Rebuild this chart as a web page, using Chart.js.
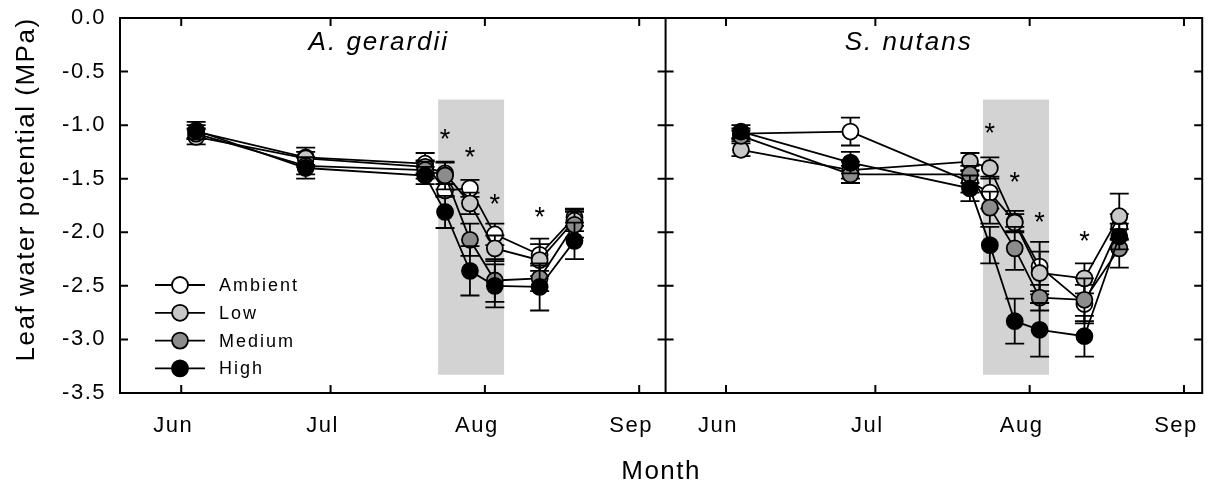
<!DOCTYPE html>
<html><head><meta charset="utf-8">
<script src="https://cdn.jsdelivr.net/npm/chart.js@4"></script>
<style>html,body{margin:0;padding:0;background:#fff;}#wrap{width:1212px;height:487px;}</style>
</head><body><div id="wrap"><canvas id="c" width="1212" height="487"></canvas></div>
<script>
// ---------- data ----------
const dates = [155, 177, 201, 205, 210, 215, 224, 231]; // day of year
const monthTicks = [152, 182, 213, 244];
const monthLabels = ['Jun', 'Jul', 'Aug', 'Sep'];
const yTicks = [0, -0.5, -1.0, -1.5, -2.0, -2.5, -3.0, -3.5];
const treatments = ['Ambient', 'Low', 'Medium', 'High'];
const panelTitles = ['A. gerardii', 'S. nutans'];

const gerardiiAmbient = [-1.06, -1.30, -1.36, -1.61, -1.59, -2.02, -2.21, -1.86];
const gerardiiLow     = [-1.11, -1.31, -1.39, -1.45, -1.73, -2.15, -2.26, -1.89];
const gerardiiMedium  = [-1.08, -1.38, -1.42, -1.47, -2.07, -2.45, -2.43, -1.93];
const gerardiiHigh    = [-1.05, -1.40, -1.47, -1.81, -2.36, -2.50, -2.51, -2.08];
const gerardiiAmbientErr = [0.06, 0.09, 0.10, 0.06, 0.08, 0.10, 0.15, 0.08];
const gerardiiLowErr     = [0.07, 0.06, 0.06, 0.10, 0.10, 0.12, 0.15, 0.10];
const gerardiiMediumErr  = [0.05, 0.08, 0.08, 0.13, 0.15, 0.20, 0.12, 0.12];
const gerardiiHighErr    = [0.08, 0.10, 0.08, 0.15, 0.23, 0.20, 0.22, 0.17];

const nutansAmbient = [-1.08, -1.06, -1.53, -1.63, -1.90, -2.32, -2.67, -1.95];
const nutansLow     = [-1.23, -1.42, -1.34, -1.40, -1.91, -2.38, -2.43, -1.85];
const nutansMedium  = [-1.10, -1.46, -1.46, -1.77, -2.15, -2.61, -2.63, -2.15];
const nutansHigh    = [-1.06, -1.35, -1.59, -2.12, -2.83, -2.91, -2.97, -2.04];
const nutansAmbientErr = [0.05, 0.13, 0.10, 0.15, 0.10, 0.23, 0.18, 0.12];
const nutansLowErr     = [0.06, 0.08, 0.08, 0.10, 0.08, 0.20, 0.14, 0.21];
const nutansMediumErr  = [0.05, 0.08, 0.08, 0.15, 0.20, 0.12, 0.20, 0.18];
const nutansHighErr    = [0.06, 0.10, 0.12, 0.17, 0.21, 0.25, 0.19, 0.12];

const starDates = [205, 210, 215, 224];
const gerardiiStarY = [-1.09, -1.26, -1.69, -1.82];
const nutansStarY   = [-1.03, -1.49, -1.86, -2.04];

const dryPeriod = [203.6, 216.9];   // shaded days
const dryRange  = [-0.76, -3.33];   // shaded MPa extent

// ---------- build ----------
const FONT = "'Liberation Sans', Arial, Helvetica, sans-serif";
const fills = {Ambient: '#ffffff', Low: '#c8c8c8', Medium: '#8c8c8c', High: '#000000'};
const panels = [
  {axis: 'x1', title: panelTitles[0], tx: 191.7, values: [gerardiiAmbient, gerardiiLow, gerardiiMedium, gerardiiHigh],
   errors: [gerardiiAmbientErr, gerardiiLowErr, gerardiiMediumErr, gerardiiHighErr], stars: gerardiiStarY},
  {axis: 'x2', title: panelTitles[1], tx: 188.7, values: [nutansAmbient, nutansLow, nutansMedium, nutansHigh],
   errors: [nutansAmbientErr, nutansLowErr, nutansMediumErr, nutansHighErr], stars: nutansStarY}
];
const datasets = [];
panels.forEach(p => {
  datasets.push({type: 'line', label: 'shade', xAxisID: p.axis, yAxisID: 'y',
    data: [{x: dryPeriod[0], y: dryRange[0]}, {x: dryPeriod[1], y: dryRange[0]}],
    fill: {value: dryRange[1]}, backgroundColor: '#d3d3d3', borderColor: 'rgba(0,0,0,0)',
    borderWidth: 0, pointRadius: 0, order: 10});
  treatments.forEach((t, i) => datasets.push({type: 'line', label: t, xAxisID: p.axis, yAxisID: 'y',
    data: dates.map((d, k) => ({x: d, y: p.values[i][k]})), errors: p.errors[i],
    borderColor: '#000', borderWidth: 1.8, backgroundColor: fills[t], fill: false,
    pointRadius: 8, pointBorderWidth: 1.8, pointBorderColor: '#000', pointBackgroundColor: fills[t],
    order: 4 - i}));
});

const setSpacing = (chart) => { try { chart.ctx.letterSpacing = '1.5px'; } catch (e) {} };
const noPad = s => { s.paddingLeft = 0; s.paddingRight = 0; s.paddingTop = 0; s.paddingBottom = 0; };

const extras = {
  id: 'extras',
  beforeUpdate: setSpacing,
  beforeLayout: setSpacing,
  beforeDraw: setSpacing,
  beforeDatasetDraw(chart, args) {
    const ds = chart.data.datasets[args.index];
    if (!ds.errors) return;
    const xs = chart.scales[ds.xAxisID], ys = chart.scales.y, ctx = chart.ctx;
    ctx.save();
    ctx.strokeStyle = '#000'; ctx.lineWidth = 1.8;
    ds.data.forEach((p, k) => {
      const e = ds.errors[k];
      const px = xs.getPixelForValue(p.x);
      const t = ys.getPixelForValue(p.y + e), b = ys.getPixelForValue(p.y - e);
      ctx.beginPath();
      ctx.moveTo(px, t); ctx.lineTo(px, b);
      ctx.moveTo(px - 9.5, t); ctx.lineTo(px + 9.5, t);
      ctx.moveTo(px - 9.5, b); ctx.lineTo(px + 9.5, b);
      ctx.stroke();
    });
    ctx.restore();
  },
  afterDraw(chart) {
    const ctx = chart.ctx, a = chart.chartArea, ys = chart.scales.y;
    const x1 = chart.scales.x1, x2 = chart.scales.x2;
    const div = x1.right;
    ctx.save();
    ctx.strokeStyle = '#000'; ctx.lineWidth = 2;
    ctx.beginPath();
    ctx.rect(a.left, a.top, a.right - a.left, a.bottom - a.top);
    ctx.moveTo(div, a.top); ctx.lineTo(div, a.bottom);
    const TL = 8;
    yTicks.forEach(v => {
      const py = ys.getPixelForValue(v);
      ctx.moveTo(a.left, py); ctx.lineTo(a.left + TL, py);
      ctx.moveTo(div - TL, py); ctx.lineTo(div + TL, py);
      ctx.moveTo(a.right - TL, py); ctx.lineTo(a.right, py);
    });
    [x1, x2].forEach(s => monthTicks.forEach(v => {
      const px = s.getPixelForValue(v);
      ctx.moveTo(px, a.bottom); ctx.lineTo(px, a.bottom - TL);
      ctx.moveTo(px, a.top); ctx.lineTo(px, a.top + TL);
    }));
    ctx.stroke();

    ctx.fillStyle = '#000';
    // asterisks
    ctx.font = '27px ' + FONT; ctx.textAlign = 'center'; ctx.textBaseline = 'middle';
    ctx.letterSpacing = '0px';
    panels.forEach(p => {
      const s = chart.scales[p.axis];
      starDates.forEach((d, k) => ctx.fillText('*', s.getPixelForValue(d), ys.getPixelForValue(p.stars[k]) + 6));
    });
    // panel titles
    ctx.font = 'italic 26px ' + FONT; ctx.letterSpacing = '2px';
    panels.forEach(p => {
      const s = chart.scales[p.axis];
      ctx.fillText(p.title, s.getPixelForValue(p.tx), ys.getPixelForValue(-0.23));
    });
    // y title
    ctx.save();
    ctx.translate(27, ys.getPixelForValue(-1.6));
    ctx.rotate(-Math.PI / 2);
    ctx.font = '26px ' + FONT; ctx.letterSpacing = '1.5px';
    ctx.fillText('Leaf water potential (MPa)', 0, 0);
    ctx.restore();
    // legend
    ctx.font = '18px ' + FONT; ctx.letterSpacing = '2px'; ctx.textAlign = 'left';
    treatments.forEach((t, i) => {
      const y = 285 + i * 27.8, cx = a.left + 60;
      ctx.beginPath(); ctx.lineWidth = 1.8;
      ctx.moveTo(cx - 25, y); ctx.lineTo(cx + 25, y); ctx.stroke();
      ctx.beginPath(); ctx.arc(cx, y, 8, 0, Math.PI * 2);
      ctx.fillStyle = fills[t]; ctx.fill(); ctx.lineWidth = 1.8; ctx.stroke();
      ctx.fillStyle = '#000';
      ctx.fillText(t, cx + 39, y + 1);
    });
    ctx.restore();
  }
};

const xAxis = (weight, min, max) => ({
  type: 'linear', position: 'bottom', stack: 'months', stackWeight: weight, min, max,
  grid: {display: false, drawTicks: false}, border: {display: false},
  afterBuildTicks: s => { s.ticks = monthTicks.map(v => ({value: v})); },
  afterFit: s => { s.height = 62.8; noPad(s); },
  ticks: {callback: v => monthLabels[monthTicks.indexOf(v)], labelOffset: -8, padding: 20,
    maxRotation: 0, autoSkip: false, color: '#000', font: {family: FONT, size: 22}}
});

new Chart(document.getElementById('c'), {
  type: 'line',
  data: {datasets},
  options: {
    responsive: false, animation: false, devicePixelRatio: 1,
    layout: {padding: {top: 18, right: 5, bottom: 0, left: 0}},
    plugins: {
      legend: {display: false}, tooltip: {enabled: false},
      title: {display: true, text: 'Month', position: 'bottom', fullSize: false, color: '#000',
        font: {family: FONT, size: 26, weight: 'normal'}, padding: 0}
    },
    scales: {
      x1: xAxis(548, 139.7, 249.3),
      x2: xAxis(539, 139.86, 247.66),
      y: {type: 'linear', position: 'left', min: -3.5, max: 0,
        grid: {display: false, drawTicks: false}, border: {display: false},
        afterBuildTicks: s => { s.ticks = yTicks.map(v => ({value: v})); },
        afterFit: s => { s.width = 120; noPad(s); },
        ticks: {callback: v => v.toFixed(1), padding: 14, color: '#000', font: {family: FONT, size: 22}}}
    }
  },
  plugins: [extras]
});
</script></body></html>
